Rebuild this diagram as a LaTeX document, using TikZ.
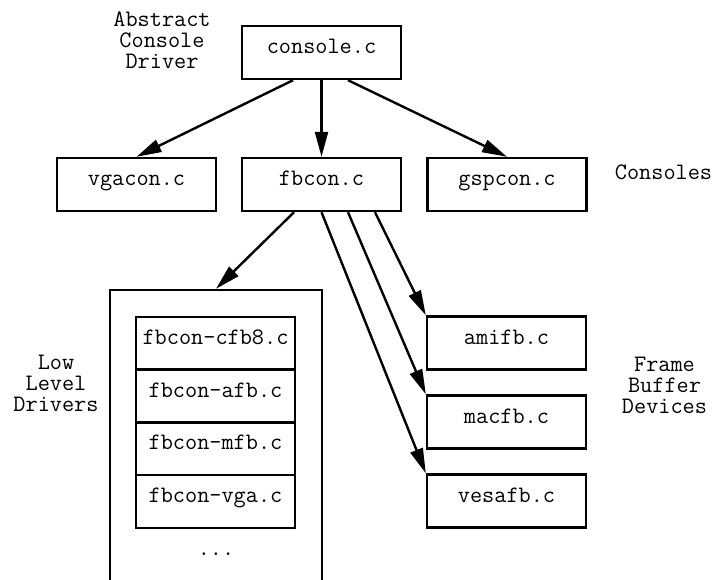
\documentclass[tikz,border=0pt]{standalone}
\usepackage{fontspec}
\usetikzlibrary{arrows.meta}
\begin{document}
\begin{tikzpicture}[x=0.5pt,y=-0.5pt,
  every node/.style={font=\fontsize{11.8pt}{10.5pt}\selectfont\ttfamily},
  box/.style={draw, line width=1.2pt, minimum width=79.5pt, minimum height=26.5pt,
    inner sep=0pt, text height=7pt, text depth=6pt},
  ibox/.style={box, minimum height=26.375pt},
  arr/.style={line width=1.2pt, -{Triangle[length=12.5pt,width=6.5pt]}},
  lbl/.style={align=center, anchor=base, inner sep=0pt}]
\useasboundingbox (0,0) rectangle (715,579);

% top level
\node[box] (console) at (321.5,52.5) {console.c};
\node[box] (vgacon) at (136.5,184.5) {vgacon.c};
\node[box] (fbcon) at (321.5,184.5) {fbcon.c};
\node[box] (gspcon) at (507,184.5) {gspcon.c};

% low level drivers
\node[draw, line width=1.2pt, minimum width=106pt, minimum height=155pt, inner sep=0pt] (lowbox) at (216,445) {};
\node[ibox] (cfb8) at (215.5,343.5) {fbcon-cfb8.c};
\node[ibox] (afb) at (215.5,396) {fbcon-afb.c};
\node[ibox] (mfb) at (215.5,448.5) {fbcon-mfb.c};
\node[ibox] (vga) at (215.5,501.5) {fbcon-vga.c};
\node[anchor=base, inner sep=0pt] (dots) at (216,555) {...};

% frame buffer devices
\node[box] (amifb) at (506.5,343) {amifb.c};
\node[box] (macfb) at (506.5,422) {macfb.c};
\node[box] (vesafb) at (506.5,501) {vesafb.c};

% labels (base anchor = baseline of the last line)
\node[lbl] (lacd) at (162,68.5) {Abstract\\Console\\Driver};
\node[lbl] (lcons) at (663.5,179) {Consoles};
\node[lbl] (llld) at (56,411) {Low\\Level\\Drivers};
\node[lbl] (lfbd) at (664.5,413) {Frame\\Buffer\\Devices};

% connectors
\draw[arr] ([xshift=-14.25pt]console.south) -- (vgacon.north);
\draw[arr] (console.south) -- (fbcon.north);
\draw[arr] ([xshift=13.25pt]console.south) -- (gspcon.north);
\draw[arr] ([xshift=-13.75pt]fbcon.south) -- (lowbox.north);
\draw[arr] ([xshift=26.75pt]fbcon.south) -- (amifb.north west);
\draw[arr] ([xshift=13.25pt]fbcon.south) -- (macfb.north west);
\draw[arr] (fbcon.south) -- (vesafb.north west);
\end{tikzpicture}
\end{document}
